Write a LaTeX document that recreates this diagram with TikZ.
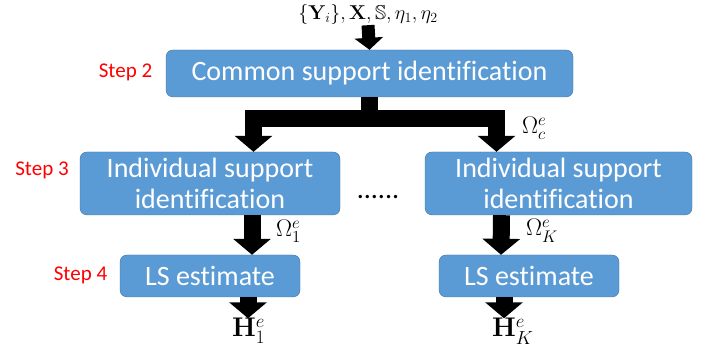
\documentclass[tikz,border=0pt]{standalone}
\usepackage{fix-cm}
\usepackage{amsmath,amssymb}
\usepackage[no-math]{fontspec}
\setmainfont[Ligatures=NoCommon]{Carlito}
\usetikzlibrary{arrows.meta,positioning}
\definecolor{boxblue}{HTML}{5B9BD5}
\definecolor{boxline}{HTML}{41719C}
\tikzset{
  blk/.style={draw=boxline,fill=boxblue,rounded corners=7pt,text=white,
    font=\fontsize{28}{31}\selectfont,align=center,inner sep=0pt},
  steplbl/.style={text=red,font=\fontsize{21}{24}\selectfont},
  mlbl/.style={font=\fontsize{24}{28}\selectfont,inner sep=0pt,anchor=base west},
  fat/.style={line width=17pt,-{Triangle[width=37pt,length=16pt]}}
}
\begin{document}
\begin{tikzpicture}[x=1pt,y=1pt]
\useasboundingbox (0,0) rectangle (709,352);
% blocks
\node[blk,minimum width=407pt,minimum height=47pt] (common) at (369.5,278.5) {Common support identification};
\node[blk,minimum width=260pt,minimum height=63pt] (ind1) at (210,168.5) {Individual support\\identification};
\node[blk,minimum width=267pt,minimum height=63pt] (indK) at (558.5,168.5) {Individual support\\identification};
\node[blk,minimum width=180pt,minimum height=42pt] (ls1) at (210,76) {LS estimate};
\node[blk,minimum width=180pt,minimum height=42pt] (lsK) at (529,76) {LS estimate};
% steps
\node[steplbl] (s2) at (125.5,279.5) {Step 2};
\node[steplbl] (s3) at (42,182) {Step 3};
\node[steplbl] (s4) at (80.5,77) {Step 4};
% labels
\node[font=\fontsize{20}{24}\selectfont,inner sep=0pt,anchor=base] (inp) at (368,332) {$\{\mathbf{Y}_i\},\mathbf{X},\mathbb{S},\eta_1,\eta_2$};
\node[mlbl] (omc) at (522,218) {$\Omega_c^e$};
\node[mlbl] (om1) at (276,115) {$\Omega_1^e$};
\node[mlbl] (omK) at (526,116) {$\Omega_K^e$};
\node[anchor=base,font=\fontsize{28}{31}\selectfont] (dots) at (378,153) {......};
\node[mlbl,font=\fontsize{27}{30}\selectfont] (h1) at (232,15) {$\mathbf{H}_1^e$};
\node[mlbl,font=\fontsize{27}{30}\selectfont] (hK) at (492,15) {$\mathbf{H}_K^e$};
% arrows
\draw[fat,line width=13pt,-{Triangle[width=28pt,length=12pt]}] (inp.south) -- (common.north);
\draw[fat] (common.south) -- ++(0,-21.5) -| ([xshift=43.5pt]ind1.north);
\draw[fat] (common.south) -- ++(0,-21.5) -| ([xshift=-62pt]indK.north);
\draw[fat] ([xshift=42pt]ind1.south) -- ([xshift=42pt]ls1.north);
\draw[fat] ([xshift=-57pt]indK.south) -- ([xshift=-28pt]lsK.north);
\draw[fat] ([xshift=38pt]ls1.south) -- ([xshift=38pt]ls1.south |- h1.north);
\draw[fat] ([xshift=-25pt]lsK.south) -- ([xshift=-25pt]lsK.south |- hK.north);
\end{tikzpicture}
\end{document}
